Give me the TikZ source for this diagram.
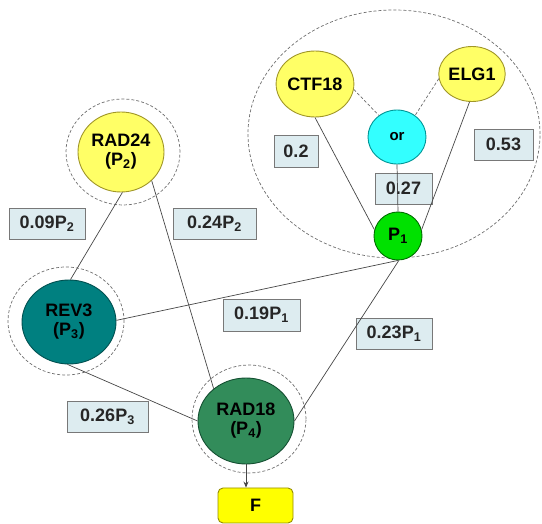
\documentclass[tikz,border=0pt]{standalone}
\usepackage{fontspec}
\setmainfont{Liberation Sans}
\usetikzlibrary{shapes.geometric,arrows.meta}
\definecolor{yfill}{RGB}{255,255,102}
\definecolor{ydraw}{RGB}{160,150,40}
\definecolor{cfill}{RGB}{51,255,255}
\definecolor{cdraw}{RGB}{0,150,150}
\definecolor{gfill}{RGB}{0,225,0}
\definecolor{gdraw}{RGB}{0,110,0}
\definecolor{tfill}{RGB}{0,128,128}
\definecolor{tdraw}{RGB}{0,80,80}
\definecolor{sfill}{RGB}{50,140,90}
\definecolor{sdraw}{RGB}{20,80,50}
\definecolor{lfill}{RGB}{221,236,240}
\definecolor{ldraw}{RGB}{120,120,120}
\definecolor{ffill}{RGB}{255,255,0}
\definecolor{fdraw}{RGB}{150,140,0}
\definecolor{edgec}{RGB}{70,70,70}
\definecolor{dashc}{RGB}{110,110,110}
\tikzset{
  txt/.style={font=\fontsize{18}{19}\selectfont\bfseries},
  gene/.style={ellipse, draw, line width=0.9pt, inner sep=0pt, align=center, txt},
  lbl/.style={rectangle, draw=ldraw, fill=lfill, line width=0.8pt, inner sep=0pt, txt, text=black!85},
  edge/.style={draw=edgec, line width=0.7pt},
  dedge/.style={draw=dashc, line width=0.7pt, dash pattern=on 3pt off 2pt},
  group/.style={ellipse, draw=dashc, line width=0.7pt, dash pattern=on 3pt off 2pt, inner sep=0pt}
}
\begin{document}
\begin{tikzpicture}[x=1pt,y=-1pt]
\useasboundingbox (0,0) rectangle (542,524);
% grouping dashed ellipses
\node[group, minimum width=292pt, minimum height=248pt] (grp1) at (394,134) {};
\node[group, minimum width=114pt, minimum height=106pt] (grp2) at (123,152) {};
\node[group, minimum width=116pt, minimum height=108pt] (grp3) at (66,321) {};
\node[group, minimum width=114pt, minimum height=108pt] (grp4) at (249,419) {};
% labels
\node[lbl, minimum width=44pt, minimum height=32pt] (l02) at (296,151) {0.2};
\node[lbl, minimum width=59pt, minimum height=31pt] (l053) at (503.5,144.5) {0.53};
\node[lbl, minimum width=57pt, minimum height=31pt] (l027) at (403.5,188.5) {0.27};
\node[lbl, minimum width=76pt, minimum height=31pt] (l009) at (47,223.5) {0.09P\textsubscript{2}};
\node[lbl, minimum width=83pt, minimum height=31pt] (l024) at (214.5,223.5) {0.24P\textsubscript{2}};
\node[lbl, minimum width=77pt, minimum height=32pt] (l019) at (261.5,315) {0.19P\textsubscript{1}};
\node[lbl, minimum width=81pt, minimum height=31pt] (l026) at (107.5,416.5) {0.26P\textsubscript{3}};
\node[lbl, minimum width=76pt, minimum height=31pt] (l023) at (394,334) {0.23P\textsubscript{1}};
% genes
\node[gene, draw=ydraw, fill=yfill, minimum width=68pt, minimum height=66pt] (ctf) at (315,84) {CTF18};
\node[gene, draw=ydraw, fill=yfill, minimum width=56pt, minimum height=55pt] (elg) at (472,74) {ELG1};
\node[gene, draw=cdraw, fill=cfill, minimum width=58pt, minimum height=54pt, font=\fontsize{15}{16}\selectfont\bfseries] (or) at (397,137) {or};
\node[gene, draw=gdraw, fill=gfill, minimum width=48pt, minimum height=48pt] (p1) at (398,236) {P\textsubscript{1}};
\node[gene, draw=ydraw, fill=yfill, minimum width=86pt, minimum height=80pt] (rad24) at (121,152) {RAD24\\(P\textsubscript{2})};
\node[gene, draw=tdraw, fill=tfill, minimum width=94pt, minimum height=84pt] (rev3) at (69,322) {REV3\\(P\textsubscript{3})};
\node[gene, draw=sdraw, fill=sfill, minimum width=96pt, minimum height=86pt] (rad18) at (246,421) {RAD18\\(P\textsubscript{4})};
\node[rectangle, rounded corners=5pt, draw=fdraw, fill=ffill, line width=0.9pt, minimum width=75pt, minimum height=35pt, txt] (f) at (255.5,505.5) {F};
% connectors
\draw[dedge] (ctf.-8) -- (or.130);
\draw[dedge] (elg.188) -- (or.50);
\draw[edge] (ctf.-90) -- (p1.165);
\draw[edge] (elg.-95) -- (p1.15);
\draw[edge] (or.south) -- (p1.north);
\draw[edge] (rad24.-88) -- (rev3.88);
\draw[edge] (rad24.-43) -- (rad18.135);
\draw[edge] (p1.south) -- (rev3.2);
\draw[edge] (p1.-88) -- (rad18.east);
\draw[edge] (rev3.-92) -- (rad18.west);
\draw[edge, -{Stealth[length=6pt,width=5pt]}] (rad18.south) -- (rad18.south |- f.north);
\end{tikzpicture}
\end{document}
